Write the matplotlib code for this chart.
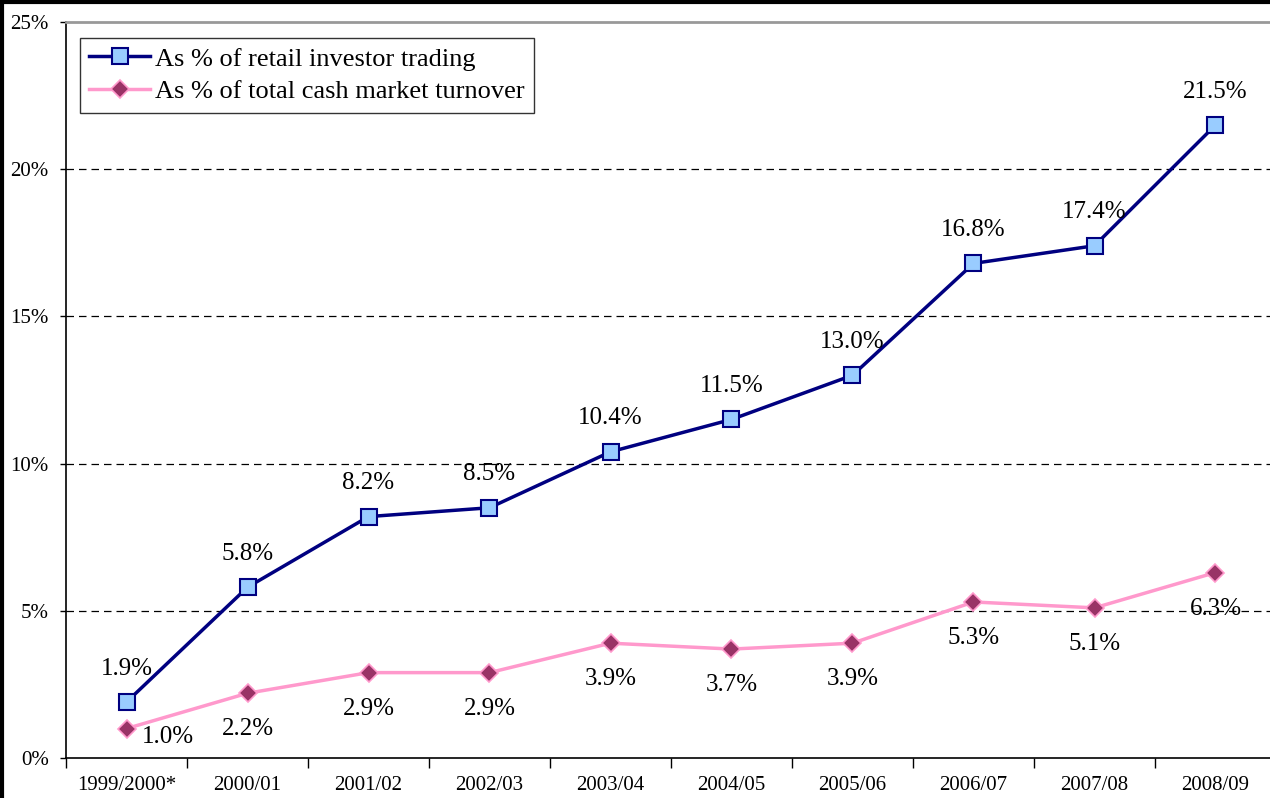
import numpy as np
import matplotlib.pyplot as plt
from matplotlib.lines import Line2D

years = ["1999/2000*", "2000/01", "2001/02", "2002/03", "2003/04",
         "2004/05", "2005/06", "2006/07", "2007/08", "2008/09"]
retail = [1.9, 5.8, 8.2, 8.5, 10.4, 11.5, 13.0, 16.8, 17.4, 21.5]
total = [1.0, 2.2, 2.9, 2.9, 3.9, 3.7, 3.9, 5.3, 5.1, 6.3]

plt.rcParams['font.family'] = ['Liberation Serif', 'DejaVu Serif']

W, H = 1270, 798
fig = plt.figure(figsize=(W / 100, H / 100), dpi=100)
ax = fig.add_axes([66 / W, 40 / H, 1210 / W, 736 / H])

x = np.arange(len(years))
ax.plot(x, retail, color="#000080", lw=2.5, marker="s", ms=11.5,
        mfc="#99CCFF", mec="#000080", mew=1.5, zorder=3,
        label="As % of retail investor trading")
ax.plot(x, total, color="#FF99CC", lw=2.5, marker="D", ms=9.5,
        mfc="#993366", mec="#FF99CC", mew=1.2, zorder=3,
        label="As % of total cash market turnover")

for i, v in enumerate(retail):
    ax.annotate(f"{v:.1f}%", (i, v), xytext=(0, 24), textcoords="offset points",
                ha="center", va="center", fontsize=18)
for i, v in enumerate(total):
    if i == 0:
        ax.annotate(f"{v:.1f}%", (i, v), xytext=(30, -6), textcoords="offset points",
                    ha="center", va="center", fontsize=18)
    else:
        ax.annotate(f"{v:.1f}%", (i, v), xytext=(0, -26), textcoords="offset points",
                    ha="center", va="center", fontsize=18)

ax.set_xlim(-0.5, len(years) - 0.5)
ax.set_ylim(0, 25)
ax.set_yticks([0, 5, 10, 15, 20, 25])
ax.set_yticklabels([f"{t}%" for t in [0, 5, 10, 15, 20, 25]], fontsize=15)
ax.set_xticks(np.arange(len(years) + 1) - 0.5)
ax.set_xticklabels([])
ax.set_xticks(x, minor=True)
ax.set_xticklabels(years, minor=True, fontsize=15)
ax.tick_params(axis="x", which="minor", length=0, pad=13)
ax.tick_params(axis="x", which="major", length=7, width=1, direction="out")
ax.tick_params(axis="y", length=4.5, width=1, direction="out", pad=8)

for y in [5, 10, 15, 20]:
    ax.axhline(y, color="black", lw=0.9, ls=(0, (6, 4)), zorder=1)

ax.spines["top"].set_color("#999999")
ax.spines["top"].set_linewidth(2)
ax.spines["right"].set_visible(False)
ax.spines["left"].set_linewidth(1.2)
ax.spines["bottom"].set_linewidth(1.2)

leg = ax.legend(loc="upper left", bbox_to_anchor=(14 / 1210, 1 - 16 / 736),
                fontsize=19, frameon=True, fancybox=False, edgecolor="black",
                borderpad=0.35, handlelength=2.3, handletextpad=0.2,
                labelspacing=0.35, borderaxespad=0)
leg.get_frame().set_linewidth(1)

# figure border (left and top visible)
fig.add_artist(Line2D([1.5 / W, 1.5 / W], [0, 1], color="black", lw=3, transform=fig.transFigure))
fig.add_artist(Line2D([0, 1], [1 - 1.5 / H, 1 - 1.5 / H], color="black", lw=3, transform=fig.transFigure))

fig.savefig("out.png", dpi=100)
